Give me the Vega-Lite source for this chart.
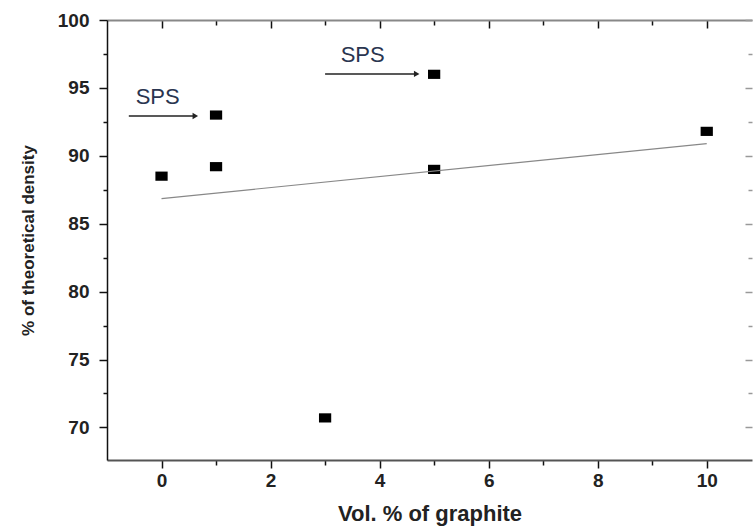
{
  "$schema": "https://vega.github.io/schema/vega-lite/v6.json",
  "autosize": {"type": "none"},
  "padding": {"left": 107, "top": 20, "right": 1, "bottom": 69},
  "width": 645,
  "height": 440,
  "background": "white",
  "config": {
    "view": {"stroke": null},
    "font": "Liberation Sans",
    "axis": {"grid": false, "labelFont": "Liberation Sans", "titleFont": "Liberation Sans", "labelFontWeight": "bold", "titleFontWeight": "bold", "labelColor": "#222", "titleColor": "#222", "tickColor": "#111", "tickWidth": 1.5}
  },
  "datasets": {
    "pts": [
      {"vol": 0, "density": 88.5},
      {"vol": 1, "density": 89.2},
      {"vol": 1, "density": 93.0},
      {"vol": 3, "density": 70.7},
      {"vol": 5, "density": 96.0},
      {"vol": 5, "density": 89.0},
      {"vol": 10, "density": 91.8}
    ],
    "fit": [
      {"vol": 0, "density": 86.85},
      {"vol": 10, "density": 90.9}
    ],
    "arrows": [
      {"x1": -0.6, "x2": 0.62, "y": 92.93, "lx": -0.07, "ly": 94.35, "label": "SPS"},
      {"x1": 3.0, "x2": 4.68, "y": 96.03, "lx": 3.69, "ly": 97.43, "label": "SPS"}
    ]
  },
  "resolve": {"axis": {"x": "independent", "y": "independent"}},
  "layer": [
    {
      "data": {"name": "pts"},
      "mark": {"type": "point", "shape": "M-1,-0.75L1,-0.75L1,0.75L-1,0.75Z", "filled": true, "color": "#000", "opacity": 1, "size": 150},
      "encoding": {
        "x": {
          "field": "vol", "type": "quantitative",
          "scale": {"domain": [-1, 10.83], "nice": false, "zero": false},
          "axis": {
            "orient": "bottom",
            "title": "Vol. % of graphite",
            "titleFontSize": 22,
            "titlePadding": 13,
            "labelFontSize": 19,
            "labelPadding": 3,
            "values": [0, 1, 2, 3, 4, 5, 6, 7, 8, 9, 10],
            "labelExpr": "datum.value % 2 === 0 ? datum.label : ''",
            "tickSize": {"condition": {"test": "datum.value % 2 !== 0", "value": 5}, "value": 8},
            "domainColor": "#555", "domainWidth": 2
          }
        },
        "y": {
          "field": "density", "type": "quantitative",
          "scale": {"domain": [67.6, 100], "nice": false, "zero": false},
          "axis": {
            "orient": "left",
            "title": "% of theoretical density",
            "titleFontSize": 17,
            "titlePadding": 20,
            "labelFontSize": 19,
            "labelPadding": 10,
            "values": [70, 72.5, 75, 77.5, 80, 82.5, 85, 87.5, 90, 92.5, 95, 97.5, 100],
            "labelExpr": "datum.value % 5 === 0 ? datum.label : ''",
            "tickSize": {"condition": {"test": "datum.value % 5 !== 0", "value": 4}, "value": 8},
            "domainColor": "#111", "domainWidth": 1.5
          }
        }
      }
    },
    {
      "data": {"name": "fit"},
      "mark": {"type": "line", "color": "#888", "strokeWidth": 1.2},
      "encoding": {
        "x": {
          "field": "vol", "type": "quantitative",
          "scale": {"domain": [-1, 10.83], "nice": false, "zero": false},
          "axis": {
            "orient": "top", "title": null, "labels": false,
            "values": [0, 1, 2, 3, 4, 5, 6, 7, 8, 9, 10],
            "tickSize": {"condition": {"test": "datum.value % 2 !== 0", "value": -5}, "value": -8},
            "domainColor": "#888", "domainWidth": 2
          }
        },
        "y": {
          "field": "density", "type": "quantitative",
          "scale": {"domain": [67.6, 100], "nice": false, "zero": false},
          "axis": {
            "orient": "right", "title": null, "labels": false, "domain": false,
            "values": [70, 72.5, 75, 77.5, 80, 82.5, 85, 87.5, 90, 92.5, 95, 97.5, 100],
            "tickColor": "#999",
            "tickSize": {"condition": {"test": "datum.value % 5 !== 0", "value": -4}, "value": -7}
          }
        }
      }
    },
    {
      "data": {"name": "arrows"},
      "mark": {"type": "rule", "color": "#222", "strokeWidth": 1.5},
      "encoding": {
        "x": {"field": "x1", "type": "quantitative", "axis": null},
        "x2": {"field": "x2"},
        "y": {"field": "y", "type": "quantitative", "axis": null}
      }
    },
    {
      "data": {"name": "arrows"},
      "mark": {"type": "point", "shape": "triangle-right", "filled": true, "color": "#222", "opacity": 1, "size": 40},
      "encoding": {
        "x": {"field": "x2", "type": "quantitative", "axis": null},
        "y": {"field": "y", "type": "quantitative", "axis": null}
      }
    },
    {
      "data": {"name": "arrows"},
      "mark": {"type": "text", "fontSize": 22, "color": "#2a3550", "align": "center", "baseline": "middle"},
      "encoding": {
        "x": {"field": "lx", "type": "quantitative", "axis": null},
        "y": {"field": "ly", "type": "quantitative", "axis": null},
        "text": {"field": "label"}
      }
    }
  ]
}
